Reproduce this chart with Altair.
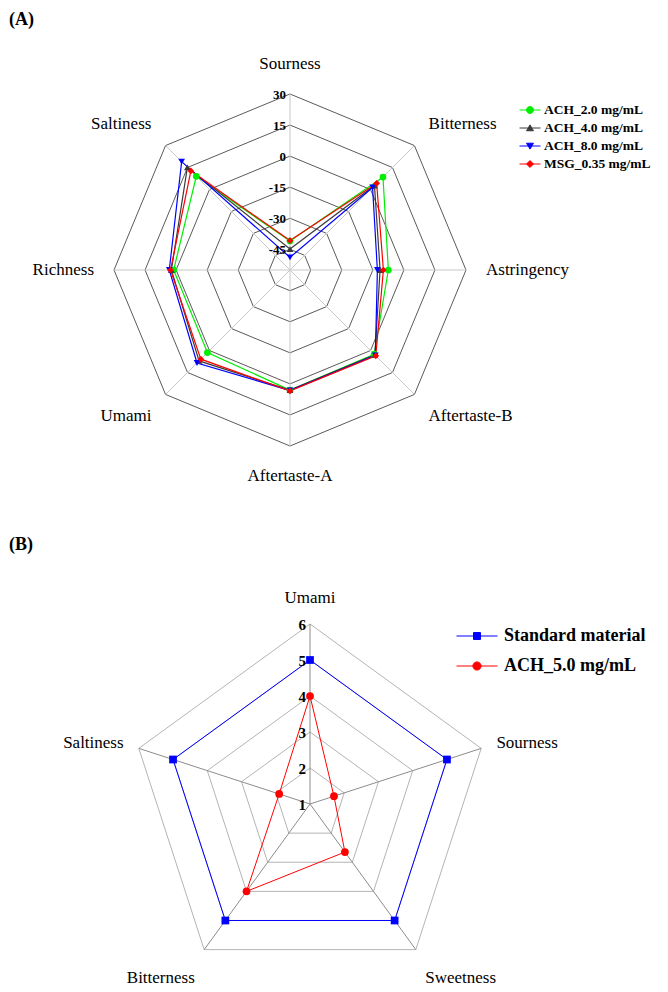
import math
import altair as alt
import pandas as pd

# ---------------- Panel (A) data ----------------
attrs_A = ["Sourness", "Bitterness", "Astringency", "Aftertaste-B",
           "Aftertaste-A", "Umami", "Richness", "Saltiness"]
series_A = ["ACH_2.0 mg/mL", "ACH_4.0 mg/mL", "ACH_8.0 mg/mL", "MSG_0.35 mg/mL"]
ach_2_0 = [-41.0, 8.5, -7.5, 2.5, 3.0, 1.4, 1.2, 9.0]
ach_4_0 = [-44.9, 2.7, -11.5, 3.0, 3.0, 7.1, 2.3, 15.1]
ach_8_0 = [-48.9, 1.4, -12.8, 3.3, 3.2, 8.5, 3.3, 19.0]
msg_0_35 = [-40.8, 4.2, -9.9, 3.6, 3.4, 5.9, 2.7, 12.7]
ticks_A = [-45, -30, -15, 0, 15, 30]
axis_min_A = -55

# ---------------- Panel (B) data ----------------
attrs_B = ["Umami", "Sourness", "Sweetness", "Bitterness", "Saltiness"]
series_B = ["Standard material", "ACH_5.0 mg/mL"]
standard_material = [5, 5, 5, 5, 5]
ach_5_0 = [4.0, 1.7, 2.65, 4.0, 1.9]
ticks_B = [1, 2, 3, 4, 5, 6]
axis_min_B = 1

SERIF = "Liberation Serif"


def legend_paths(shapes, m):
    out = []
    for s in shapes:
        line = "M-1,0L1,0"
        if s == "circle":
            pts = [(m * math.cos(2 * math.pi * j / 16), m * math.sin(2 * math.pi * j / 16))
                   for j in range(16)]
            mk = "M" + "L".join(f"{x:.3f},{y:.3f}" for x, y in pts) + "Z"
        elif s == "triangle-up":
            mk = f"M{-m},{m*0.8:.3f}L{m},{m*0.8:.3f}L0,{-m*0.9:.3f}Z"
        elif s == "triangle-down":
            mk = f"M{-m},{-m*0.8:.3f}L{m},{-m*0.8:.3f}L0,{m*0.9:.3f}Z"
        elif s == "diamond":
            mk = f"M0,{-m}L{m},0L0,{m}L{-m},0Z"
        else:
            q = round(m * 0.85, 3)
            mk = f"M{-q},{-q}L{q},{-q}L{q},{q}L{-q},{q}Z"
        out.append(line + mk)
    return out


def switch_expr(keys, vals, default):
    parts = [f"datum.value === '{k}' ? '{v}'" for k, v in zip(keys, vals)]
    return " : ".join(parts) + f" : '{default}'"


def panel(tag, attrs, series, values, colors, shapes, ticks, vmin, vmax, rmax,
          width, height, cx, cy, ring_color, spoke_color, tick_size,
          label_size, label_rx, label_ry, label_dy, point_size, line_w,
          leg_x, leg_y, leg_sym, leg_font, leg_offset, leg_pad, marker_frac, tag_y):
    n = len(attrs)
    k = rmax / (vmax - vmin)
    xs = alt.Scale(domain=[-cx, width - cx], nice=False, zero=False)
    ys = alt.Scale(domain=[-(height - cy), cy], nice=False, zero=False)
    ang = f"datum.idx * 2 * PI / {n}"

    def place(ch, rexpr):
        return (ch.transform_calculate(r=rexpr)
                  .transform_calculate(px=f"datum.r * sin({ang})")
                  .transform_calculate(py=f"datum.r * cos({ang})"))

    X = alt.X("px:Q", scale=xs, axis=None)
    Y = alt.Y("py:Q", scale=ys, axis=None)

    rows = []
    for s, vals in zip(series, values):
        for i, (a, v) in enumerate(zip(attrs, vals)):
            rows.append({"series": s, "attr": a, "idx": i, "value": v})
    df = pd.DataFrame(rows)
    ring_df = pd.DataFrame([{"level": t, "idx": i} for t in ticks for i in range(n)])
    spoke_df = pd.DataFrame([{"idx": i} for i in range(n)])
    tick_df = pd.DataFrame([{"level": t, "label": str(t)} for t in ticks])
    lab_df = pd.DataFrame([{"attr": a, "idx": i} for i, a in enumerate(attrs)])

    rexpr = f"(datum.value - ({vmin})) * {k}"
    rlev = f"(datum.level - ({vmin})) * {k}"

    rings = place(alt.Chart(ring_df), rlev).mark_line(
        interpolate="linear-closed", color=ring_color, strokeWidth=1
    ).encode(x=X, y=Y, detail="level:N", order="idx:Q")

    spokes = (alt.Chart(spoke_df)
              .transform_calculate(zero="0")
              .transform_calculate(ex=f"{rmax} * sin({ang})")
              .transform_calculate(ey=f"{rmax} * cos({ang})")
              .mark_rule(color=spoke_color, strokeWidth=1)
              .encode(x=alt.X("zero:Q", scale=xs, axis=None),
                      y=alt.Y("zero:Q", scale=ys, axis=None),
                      x2="ex:Q", y2="ey:Q"))

    paths = legend_paths(shapes, marker_frac)
    legend = alt.Legend(
        orient="none", legendX=leg_x, legendY=leg_y, title=None,
        labelFont=SERIF, labelFontSize=leg_font, labelFontWeight="bold",
        labelColor="black", labelOffset=leg_offset, labelLimit=400,
        symbolSize=leg_sym, symbolStrokeWidth=1, rowPadding=leg_pad,
        symbolType=alt.ExprRef(expr=switch_expr(series, paths, "stroke")),
        symbolFillColor=alt.ExprRef(expr=switch_expr(series, colors, "black")))

    cscale = alt.Scale(domain=series, range=colors)

    lines = place(alt.Chart(df), rexpr).mark_line(
        interpolate="linear-closed", strokeWidth=line_w
    ).encode(x=X, y=Y, color=alt.Color("series:N", scale=cscale, legend=legend),
             order="idx:Q")

    point_layers = []
    for s, c, shp in zip(series, colors, shapes):
        point_layers.append(
            place(alt.Chart(df).transform_filter(alt.datum.series == s), rexpr)
            .mark_point(filled=True, size=point_size, opacity=1, color=c, shape=shp)
            .encode(x=X, y=Y))

    tick_labels = (place(alt.Chart(tick_df).transform_calculate(idx="0"), rlev)
                   .mark_text(align="right", baseline="middle", dx=-4, dy=1,
                              font=SERIF, fontWeight="bold", fontSize=tick_size,
                              color="black")
                   .encode(x=X, y=Y, text="label:N"))

    def cat_layer(cond, align):
        return (alt.Chart(lab_df)
                .transform_calculate(s=f"sin({ang})")
                .transform_calculate(px=f"{label_rx} * sin({ang})")
                .transform_calculate(py=f"{label_ry} * cos({ang})")
                .transform_filter(cond)
                .mark_text(align=align, baseline="middle", font=SERIF, dy=label_dy,
                           fontSize=label_size, color="black")
                .encode(x=X, y=Y, text="attr:N"))

    cats = [cat_layer("datum.s > 0.01", "left"),
            cat_layer("datum.s < -0.01", "right"),
            cat_layer("abs(datum.s) <= 0.01", "center")]

    tag_text = (alt.Chart(pd.DataFrame({"t": [tag]}))
                .mark_text(align="left", baseline="middle", font=SERIF,
                           fontWeight="bold", fontSize=18, color="black")
                .encode(x=alt.value(1), y=alt.value(tag_y), text="t:N"))

    return alt.layer(rings, spokes, lines, *point_layers, tick_labels,
                     *cats, tag_text).properties(width=width, height=height)


chart_A = panel("(A)", attrs_A, series_A, [ach_2_0, ach_4_0, ach_8_0, msg_0_35],
                ["#00ee00", "#3a3a3a", "#0000ff", "#ff0000"],
                ["circle", "triangle-up", "triangle-down", "diamond"],
                ticks_A, axis_min_A, 30, 176,
                652, 522, 282, 262, "#5a5a5a", "#c8c8c8", 13,
                17, 196, 206, 0, 45, 1.2,
                511, 91, 441, 13.5, 3, 0, 0.33, 12)

chart_B = panel("(B)", attrs_B, series_B, [standard_material, ach_5_0],
                ["#0000ff", "#ff0000"],
                ["square", "circle"],
                ticks_B, axis_min_B, 6, 180,
                652, 454, 302, 274, "#b4b4b4", "#8c8c8c", 15,
                17, 196, 210, 4, 60, 1,
                448, 85, 1681, 18, 6, -6, 0.2, 15)

chart = (alt.vconcat(chart_A, chart_B, spacing=0)
         .resolve_scale(color="independent", x="independent", y="independent")
         .properties(padding=0)
         .configure_view(stroke=None))

chart.save("out.html", embed_options={"renderer": "svg", "actions": False})
